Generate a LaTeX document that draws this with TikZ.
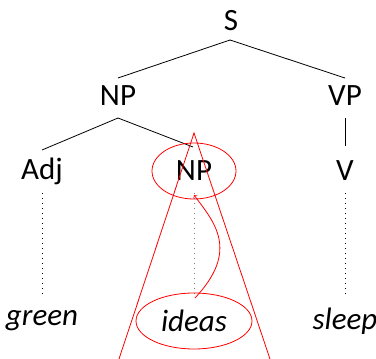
\documentclass[tikz,border=0pt]{standalone}
\usepackage{fontspec}
\setmainfont{Carlito}
\begin{document}
\begin{tikzpicture}[x=1pt,y=-1pt,
  lbl/.style={inner sep=0pt,font=\fontsize{31}{34}\selectfont},
  word/.style={lbl,font=\fontsize{31}{34}\selectfont\itshape},
  edge/.style={draw=black,line width=0.8pt},
  dots/.style={draw=black,line width=0.7pt,dash pattern=on 0.7pt off 4.3pt},
  redline/.style={draw=red,line width=0.8pt}]
\useasboundingbox (0,0) rectangle (376,359);
\node[lbl] (S) at (231,21) {S};
\node[lbl] (NP) at (118,96) {NP};
\node[lbl] (VP) at (345,96) {VP};
\node[lbl] (Adj) at (42,171) {Adj};
\node[lbl] (NPb) at (194,171) {NP};
\node[lbl] (V) at (345,171) {V};
\node[word] (green) at (42,321) {green};
\node[word] (ideas) at (194,321) {ideas};
\node[word] (sleep) at (345,321) {sleep};
\coordinate (s0) at (230,40);
\coordinate (np0) at (118,118);
\draw[edge] (s0) -- (118,78);
\draw[edge] (s0) -- (345,78);
\draw[edge] (np0) -- (42,150);
\draw[edge] (np0) -- (193,147);
\draw[edge] (345,118) -- (345,146);
\draw[dots] (42,193) -- (42,297);
\draw[dots,draw=gray] (194,193) -- (194,297);
\draw[dots] (345,193) -- (345,297);
\draw[redline] (NPb) ellipse [x radius=42,y radius=28];
\draw[redline] (ideas) ellipse [x radius=58,y radius=28];
\coordinate (apex) at (194,133);
\coordinate (bl) at (119,359);
\coordinate (br) at (270,359);
\draw[redline] (bl) -- (apex) -- (br);
\coordinate (a0) at (195,298);
\coordinate (a1) at (194,195);
\draw[redline,->] (a0) .. controls (240,250) and (214,222) .. (a1);
\end{tikzpicture}
\end{document}
